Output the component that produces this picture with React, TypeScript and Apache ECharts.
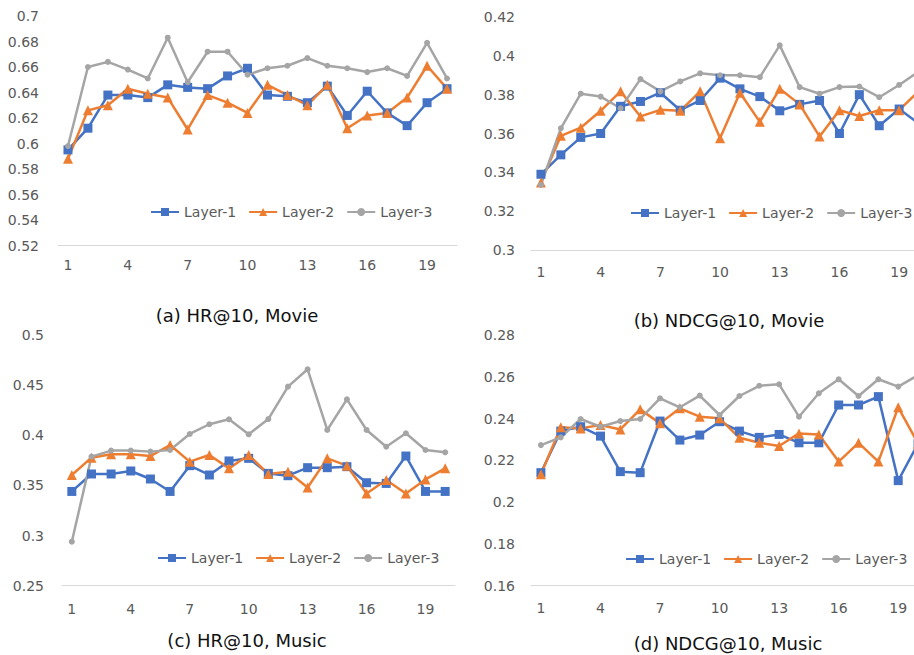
import React, { useEffect, useRef } from "react";
import * as echarts from "echarts";

const categories = ["1","2","3","4","5","6","7","8","9","10","11","12","13","14","15","16","17","18","19","20"];
const seriesNames = ["Layer-1", "Layer-2", "Layer-3"];

// (a) HR@10, Movie
const hrMovieL1 = [0.595,0.612,0.638,0.638,0.636,0.646,0.644,0.643,0.653,0.659,0.638,0.637,0.632,0.645,0.622,0.641,0.624,0.614,0.632,0.643];
const hrMovieL2 = [0.588,0.626,0.630,0.643,0.639,0.636,0.611,0.638,0.632,0.624,0.646,0.638,0.630,0.646,0.612,0.622,0.624,0.636,0.661,0.643];
const hrMovieL3 = [0.598,0.660,0.664,0.658,0.651,0.683,0.648,0.672,0.672,0.654,0.659,0.661,0.667,0.661,0.659,0.656,0.659,0.653,0.679,0.651];

// (b) NDCG@10, Movie
const ndcgMovieL1 = [0.339,0.349,0.358,0.360,0.374,0.3765,0.381,0.372,0.377,0.3885,0.383,0.379,0.3717,0.375,0.377,0.360,0.380,0.364,0.3726,0.365];
const ndcgMovieL2 = [0.3347,0.3588,0.363,0.3717,0.3817,0.3688,0.3722,0.3717,0.3817,0.3576,0.381,0.366,0.383,0.375,0.3585,0.372,0.369,0.372,0.372,0.382];
const ndcgMovieL3 = [0.3335,0.3627,0.3805,0.379,0.373,0.388,0.3817,0.3868,0.391,0.390,0.390,0.389,0.4054,0.3839,0.3805,0.3839,0.3842,0.3787,0.385,0.392];

// (c) HR@10, Music
const hrMusicL1 = [0.344,0.3614,0.3614,0.3644,0.3564,0.344,0.3697,0.3604,0.3744,0.377,0.362,0.3597,0.3677,0.3677,0.3687,0.3527,0.352,0.3793,0.344,0.344];
const hrMusicL2 = [0.3604,0.3777,0.381,0.381,0.3793,0.3903,0.3737,0.3803,0.367,0.3803,0.3614,0.3637,0.348,0.377,0.3697,0.342,0.3554,0.342,0.356,0.367];
const hrMusicL3 = [0.2939,0.3787,0.3847,0.3847,0.3837,0.3853,0.4013,0.411,0.4159,0.401,0.4162,0.4485,0.4658,0.4053,0.4358,0.4053,0.3886,0.402,0.3853,0.383];

// (d) NDCG@10, Music
const ndcgMusicL1 = [0.2141,0.234,0.2361,0.2316,0.2146,0.2141,0.2388,0.2297,0.2321,0.2385,0.234,0.231,0.2324,0.2284,0.2284,0.2465,0.2465,0.2505,0.2103,0.228];
const ndcgMusicL2 = [0.2134,0.2358,0.2353,0.2369,0.2348,0.2444,0.2377,0.2449,0.2409,0.2401,0.2308,0.2284,0.2269,0.2329,0.2324,0.2194,0.2284,0.2194,0.2454,0.228];
const ndcgMusicL3 = [0.2273,0.231,0.2398,0.2361,0.2388,0.2398,0.2497,0.2454,0.251,0.2417,0.2508,0.2557,0.2564,0.2409,0.2521,0.2588,0.2508,0.2588,0.2553,0.2608];

const panelTitles = ["(a) HR@10, Movie", "(b) NDCG@10, Movie", "(c) HR@10, Music", "(d) NDCG@10, Music"];
const yMins = [0.52, 0.3, 0.25, 0.16];
const yMaxs = [0.7, 0.42, 0.5, 0.28];
const yIntervals = [0.02, 0.02, 0.05, 0.02];

const panelData = [
  [hrMovieL1, hrMovieL2, hrMovieL3],
  [ndcgMovieL1, ndcgMovieL2, ndcgMovieL3],
  [hrMusicL1, hrMusicL2, hrMusicL3],
  [ndcgMusicL1, ndcgMusicL2, ndcgMusicL3],
];

const COLORS = ["#4472C4", "#ED7D31", "#A5A5A5"];
const SYMBOLS = ["rect", "triangle", "circle"];
const SYMBOL_SIZES = [9, 10, 6];
const FONT = "DejaVu Sans";

// layout
const grids = [
  { left: 58, top: 16, width: 399, height: 229.5 },
  { left: 531, top: 17, width: 398, height: 233 },
  { left: 62, top: 335, width: 393, height: 250.7 },
  { left: 531, top: 335, width: 397, height: 250.7 },
];
const yLabelMargins = [19, 16, 18, 16];
const xLabelMargins = [12, 15, 16, 15];
const legendPos = [
  { left: 150, top: 205 },
  { left: 630, top: 206 },
  { left: 157, top: 551 },
  { left: 625, top: 552 },
];
const titlePos = [
  { x: 237, y: 306 },
  { x: 729, y: 311 },
  { x: 247, y: 631 },
  { x: 728, y: 634 },
];

export default function App() {
  const ref = useRef<HTMLDivElement>(null);
  useEffect(() => {
    if (!ref.current) return;
    const chart = echarts.init(ref.current, null, { renderer: "svg" });
    const series: any[] = [];
    panelData.forEach((lines, p) => {
      lines.forEach((vals, i) => {
        series.push({
          type: "line",
          name: seriesNames[i],
          xAxisIndex: p,
          yAxisIndex: p,
          data: vals,
          symbol: SYMBOLS[i],
          symbolSize: SYMBOL_SIZES[i],
          showAllSymbol: true,
          lineStyle: { color: COLORS[i], width: 2.5 },
          itemStyle: { color: COLORS[i] },
          emphasis: { disabled: true },
        });
      });
    });
    const option: any = {
      animation: false,
      backgroundColor: "#ffffff",
      title: panelTitles.map((t, p) => ({
        text: t,
        left: titlePos[p].x,
        top: titlePos[p].y,
        textAlign: "center",
        padding: 0,
        textStyle: { fontFamily: FONT, fontSize: 18, fontWeight: "normal", color: "#111111" },
      })),
      grid: grids.map((g) => ({ ...g, containLabel: false })),
      xAxis: grids.map((_, p) => ({
        type: "category",
        gridIndex: p,
        data: categories,
        boundaryGap: true,
        axisLine: { show: true, lineStyle: { color: "#D9D9D9", width: 1 } },
        axisTick: { show: false },
        axisLabel: {
          interval: 2,
          margin: xLabelMargins[p],
          fontFamily: FONT,
          fontSize: 14,
          color: "#595959",
        },
        splitLine: { show: false },
      })),
      yAxis: grids.map((_, p) => ({
        type: "value",
        gridIndex: p,
        min: yMins[p],
        max: yMaxs[p],
        interval: yIntervals[p],
        axisLine: { show: false },
        axisTick: { show: false },
        splitLine: { show: false },
        axisLabel: {
          margin: yLabelMargins[p],
          fontFamily: FONT,
          fontSize: 14,
          color: "#595959",
        },
      })),
      legend: legendPos.map((pos) => ({
        left: pos.left,
        top: pos.top,
        orient: "horizontal",
        itemWidth: 28,
        itemHeight: 10,
        itemGap: 12,
        padding: 0,
        selectedMode: false,
        data: seriesNames.map((n) => n),
        textStyle: { fontFamily: FONT, fontSize: 14, color: "#595959" },
      })),
      series,
    };
    chart.setOption(option);
    return () => chart.dispose();
  }, []);
  return (
    <div style={{ position: "fixed", left: 0, top: 0, width: 914, height: 655, overflow: "hidden", background: "#fff" }}>
      <div ref={ref} style={{ width: 940, height: 655 }} />
    </div>
  );
}
